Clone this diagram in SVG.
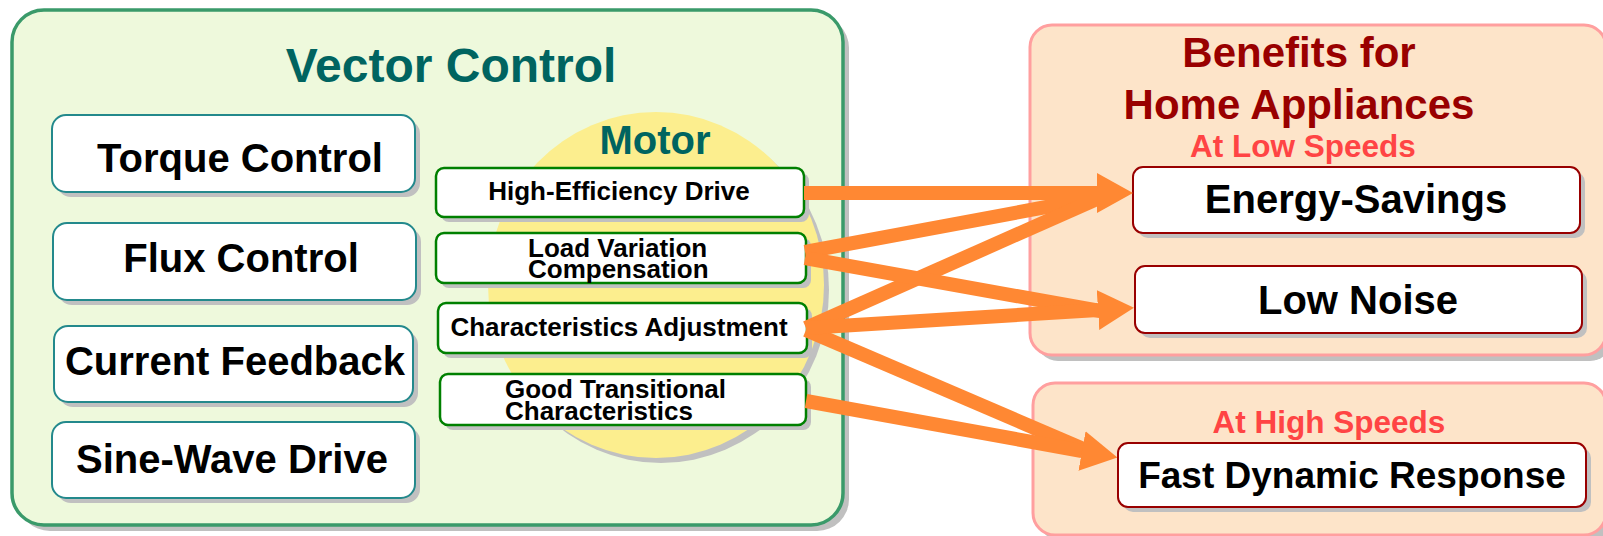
<svg xmlns="http://www.w3.org/2000/svg" width="1603" height="536" viewBox="0 0 1603 536">
  <defs>
    <style>
      text { font-family: "Liberation Sans", Arial, sans-serif; font-weight: bold; }
      .shadow { fill: #C0C0C0; stroke: none; }
      .panel-green { fill: #EEF9DC; stroke: #3A9A6A; stroke-width: 3.5; }
      .panel-pink { fill: #FDE4C9; stroke: #FF9F9F; stroke-width: 3; }
      .ctl { fill: #FFFFFF; stroke: #23898C; stroke-width: 2; }
      .feat { fill: #FFFFFF; stroke: #008000; stroke-width: 2.5; }
      .benefit { fill: #FFFFFF; stroke: #990000; stroke-width: 2; }
      .ctl-label { font-size: 40px; fill: #000000; text-anchor: middle; }
      .feat-label { font-size: 26px; fill: #000000; }
      .benefit-label { font-size: 40px; fill: #000000; text-anchor: middle; }
      .benefit-label.long { font-size: 37px; }
      .speed { font-size: 31.5px; fill: #FF4444; text-anchor: middle; }
      .heading { font-size: 42px; fill: #990000; text-anchor: middle; }
      .link { fill: none; stroke: #FF8833; stroke-width: 14; stroke-linecap: butt; }
    </style>
    <marker id="head" markerUnits="userSpaceOnUse" markerWidth="36" markerHeight="40" viewBox="0 0 36 40" refX="0" refY="20" orient="auto">
      <path d="M0,0 L36,20 L0,40 z" fill="#FF8833"/>
    </marker>
  </defs>

  <rect width="1603" height="536" fill="#FFFFFF"/>

  <!-- Vector control panel -->
  <g id="vector-control">
    <rect class="shadow" x="18" y="16" width="831" height="515" rx="32"/>
    <rect class="panel-green" x="12" y="10" width="831" height="515" rx="32"/>
    <text x="451" y="82" font-size="48" fill="#006460" text-anchor="middle">Vector Control</text>
  </g>

  <g id="torque-control">
    <rect class="shadow" x="57" y="120" width="363" height="77" rx="14"/>
    <rect class="ctl" x="52" y="115" width="363" height="77" rx="14"/>
    <text class="ctl-label" x="240" y="172">Torque Control</text>
  </g>
  <g id="flux-control">
    <rect class="shadow" x="58" y="228" width="363" height="77" rx="14"/>
    <rect class="ctl" x="53" y="223" width="363" height="77" rx="14"/>
    <text class="ctl-label" x="241" y="272">Flux Control</text>
  </g>
  <g id="current-feedback">
    <rect class="shadow" x="59" y="331" width="359" height="76" rx="14"/>
    <rect class="ctl" x="54" y="326" width="359" height="76" rx="14"/>
    <text class="ctl-label" x="235" y="375">Current Feedback</text>
  </g>
  <g id="sine-wave-drive">
    <rect class="shadow" x="57" y="427" width="363" height="76" rx="14"/>
    <rect class="ctl" x="52" y="422" width="363" height="76" rx="14"/>
    <text class="ctl-label" x="232" y="473">Sine-Wave Drive</text>
  </g>

  <!-- Motor -->
  <g id="motor">
    <ellipse class="shadow" cx="661" cy="290" rx="168" ry="173"/>
    <ellipse cx="656" cy="285" rx="168" ry="173" fill="#FCEE8E"/>
    <text x="655" y="154" font-size="40" fill="#006460" text-anchor="middle">Motor</text>
  </g>

  <g id="high-efficiency-drive">
    <rect class="shadow" x="441" y="173" width="368" height="49" rx="8"/>
    <rect class="feat" x="436" y="168" width="368" height="49" rx="8"/>
    <text class="feat-label" x="619" y="200" text-anchor="middle">High-Efficiency Drive</text>
  </g>
  <g id="load-variation-compensation">
    <rect class="shadow" x="441" y="238" width="370" height="50" rx="8"/>
    <rect class="feat" x="436" y="233" width="370" height="50" rx="8"/>
    <text class="feat-label" x="528" y="257">Load Variation</text>
    <text class="feat-label" x="528" y="278">Compensation</text>
  </g>
  <g id="characteristics-adjustment">
    <rect class="shadow" x="443" y="308" width="369" height="50" rx="8"/>
    <rect class="feat" x="438" y="303" width="369" height="50" rx="8"/>
    <text class="feat-label" x="619" y="336" text-anchor="middle">Characteristics Adjustment</text>
  </g>
  <g id="good-transitional-characteristics">
    <rect class="shadow" x="445" y="379" width="366" height="51" rx="8"/>
    <rect class="feat" x="440" y="374" width="366" height="51" rx="8"/>
    <text class="feat-label" x="505" y="398">Good Transitional</text>
    <text class="feat-label" x="505" y="420">Characteristics</text>
  </g>

  <!-- Benefits panels -->
  <g id="benefits-low-speed">
    <rect class="shadow" x="1036" y="31" width="576" height="330" rx="22"/>
    <rect class="panel-pink" x="1030" y="25" width="576" height="330" rx="22"/>
    <text class="heading" x="1299" y="67">Benefits for</text>
    <text class="heading" x="1299" y="119">Home Appliances</text>
    <text class="speed" x="1303" y="157">At Low Speeds</text>
  </g>
  <g id="benefits-high-speed">
    <rect class="shadow" x="1039" y="389" width="573" height="152" rx="22"/>
    <rect class="panel-pink" x="1033" y="383" width="573" height="152" rx="22"/>
    <text class="speed" x="1329" y="433">At High Speeds</text>
  </g>

  <g id="energy-savings">
    <rect class="shadow" x="1138" y="172" width="447" height="66" rx="10"/>
    <rect class="benefit" x="1133" y="167" width="447" height="66" rx="10"/>
    <text class="benefit-label" x="1356" y="213">Energy-Savings</text>
  </g>
  <g id="low-noise">
    <rect class="shadow" x="1140" y="271" width="447" height="67" rx="10"/>
    <rect class="benefit" x="1135" y="266" width="447" height="67" rx="10"/>
    <text class="benefit-label" x="1358" y="314">Low Noise</text>
  </g>
  <g id="fast-dynamic-response">
    <rect class="shadow" x="1123" y="448" width="468" height="64" rx="10"/>
    <rect class="benefit" x="1118" y="443" width="468" height="64" rx="10"/>
    <text class="benefit-label long" x="1352" y="488">Fast Dynamic Response</text>
  </g>

  <!-- Connectors: feature boxes to benefits -->
  <g id="connectors">
    <path class="link" d="M805,252 L1100,197"/>
    <path class="link" d="M806,328 L1099,198"/>
    <path class="link" d="M805,258 L1100,311"/>
    <path class="link" d="M806,330 L1095,454"/>
    <path class="link" d="M804,193 L1097,193" marker-end="url(#head)"/>
    <path class="link" d="M806,328 L1098,310" marker-end="url(#head)"/>
    <path class="link" d="M806,401 L1082,451" marker-end="url(#head)"/>
  </g>
</svg>
